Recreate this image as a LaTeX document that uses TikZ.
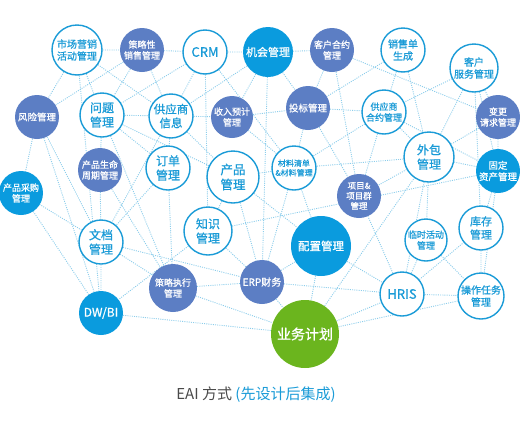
\documentclass[tikz,border=0pt]{standalone}
\usepackage{fontspec}
\setmainfont{Noto Sans CJK SC}[FakeBold=0.8]
\newfontfamily\capfont{Noto Sans CJK SC}
\pgfdeclarelayer{background}
\pgfsetlayers{background,main}
\definecolor{ringblue}{HTML}{1A9BD7}
\definecolor{fillblue}{HTML}{0A9BDE}
\definecolor{violetnode}{HTML}{5C7EC4}
\definecolor{leafgreen}{HTML}{6BB51E}
\definecolor{linkblue}{HTML}{8CCDEB}
\definecolor{captext}{HTML}{4A4A4A}
\tikzset{
    hollow/.style={circle, draw=ringblue, line width=1.4pt, fill=white, text=ringblue, align=center, inner sep=0pt},
    bluefill/.style={circle, fill=fillblue, text=white, align=center, inner sep=0pt},
    violetfill/.style={circle, fill=violetnode, text=white, align=center, inner sep=0pt},
    greenfill/.style={circle, fill=leafgreen, text=white, align=center, inner sep=0pt},
    link/.style={draw=linkblue, line width=0.9pt, dash pattern=on 1pt off 1.2pt},
}
\newcommand{\fs}[1]{\fontsize{#1}{\fpeval{#1*1.2}}\selectfont}
\begin{document}
\begin{tikzpicture}[x=1pt, y=-1pt]
    \useasboundingbox (0, 0) rectangle (520, 421);
    % top row
        \node[hollow, minimum size=50pt, font=\fs{10}] (mkt) at (77, 50){市场营销\\活动管理};
        \node[violetfill, minimum size=44pt, font=\fs{9}] (sstr) at (142, 50){策略性\\销售管理};
        \node[hollow, minimum size=44pt, font=\fs{13}] (crm) at (205, 52){CRM};
        \node[bluefill, minimum size=50pt, font=\fs{11}] (opp) at (268, 52){机会管理};
        \node[violetfill, minimum size=44pt, font=\fs{9}] (ccon) at (332, 50){客户合约\\管理};
        \node[hollow, minimum size=44pt, font=\fs{10}] (sord) at (403, 50){销售单\\生成};
        \node[hollow, minimum size=48pt, font=\fs{10}] (csvc) at (474, 68){客户\\服务管理};
    % second row
        \node[violetfill, minimum size=44pt, font=\fs{9.5}] (risk) at (37, 117){风险管理};
        \node[hollow, minimum size=44pt, font=\fs{12}] (iss) at (102, 115){问题\\管理};
        \node[hollow, minimum size=44pt, font=\fs{11.5}] (sup) at (171, 116){供应商\\信息};
        \node[violetfill, minimum size=42pt, font=\fs{9}] (rev) at (232, 117){收入预计\\管理};
        \node[violetfill, minimum size=44pt, font=\fs{9.5}] (bid) at (308, 108){投标管理};
        \node[hollow, minimum size=44pt, font=\fs{9}] (scon) at (384, 112){供应商\\合约管理};
        \node[violetfill, minimum size=44pt, font=\fs{9}] (chg) at (498, 117){变更\\请求管理};
    % third row
        \node[hollow, minimum size=50pt, font=\fs{12}] (out) at (429, 157){外包\\管理};
        \node[bluefill, minimum size=44pt, font=\fs{9.5}] (fix) at (498, 171){固定\\资产管理};
        \node[violetfill, minimum size=44pt, font=\fs{9}] (plc) at (100, 170){产品生命\\周期管理};
        \node[hollow, minimum size=44pt, font=\fs{12}] (ord) at (168, 168){订单\\管理};
        \node[hollow, minimum size=52pt, font=\fs{12.5}] (prd) at (233, 177){产品\\管理};
        \node[hollow, minimum size=44pt, font=\fs{8}] (bom) at (294, 168){材料清单\\\&材料管理};
        \node[violetfill, minimum size=44pt, font=\fs{8.5}] (prj) at (359, 196){项目\&\\项目群\\管理};
        \node[bluefill, minimum size=44pt, font=\fs{9}] (pur) at (21, 193){产品采购\\管理};
    % fourth row
        \node[hollow, minimum size=44pt, font=\fs{12}] (doc) at (101, 242){文档\\管理};
        \node[hollow, minimum size=48pt, font=\fs{12}] (kno) at (208, 231){知识\\管理};
        \node[bluefill, minimum size=60pt, font=\fs{11.5}] (cfg) at (321, 246){配置管理};
        \node[hollow, minimum size=42pt, font=\fs{9}] (tmp) at (426, 240){临时活动\\管理};
        \node[hollow, minimum size=44pt, font=\fs{11}] (inv) at (481, 228){库存\\管理};
    % bottom row
        \node[violetfill, minimum size=48pt, font=\fs{9}] (sexe) at (173, 288){策略执行\\管理};
        \node[violetfill, minimum size=44pt, font=\fs{10}] (erp) at (262, 282){ERP财务};
        \node[bluefill, minimum size=44pt, font=\fs{12}] (dw) at (101, 313){DW/BI};
        \node[hollow, minimum size=44pt, font=\fs{13}] (hris) at (402, 294){HRIS};
        \node[hollow, minimum size=46pt, font=\fs{10}] (ops) at (481, 296){操作任务\\管理};
        \node[greenfill, minimum size=68pt, font=\fs{14}] (plan) at (305, 334){业务计划};
    % caption
        \node[text=captext, font=\capfont\fs{15}] (cap) at (256, 395){EAI 方式 \textcolor{ringblue}{(先设计后集成)}};
    % links
    \begin{pgfonlayer}{background}
        \draw[link] (mkt) -- (sstr) (mkt) -- (risk) (mkt) -- (iss) (mkt) -- (sup) (mkt) -- (dw);
        \draw[link] (sstr) -- (crm) (sstr) -- (risk) (sstr) -- (iss) (sstr) -- (sup);
        \draw[link] (crm) -- (opp) (crm) -- (iss) (crm) -- (sup) (crm) -- (kno) (crm) -- (bom);
        \draw[link] (opp) -- (ccon) (opp) -- (rev) (opp) -- (bid) (opp) -- (erp) (opp) -- (sup);
        \draw[link] (ccon) -- (chg) (ccon) -- (prj) (ccon) -- (bid);
        \draw[link] (sord) -- (bid) (sord) -- (scon) (sord) -- (out);
        \draw[link] (csvc) -- (scon) (csvc) -- (out) (csvc) -- (fix) (csvc) -- (inv) (csvc) -- (chg);
        \draw[link] (risk) -- (pur) (risk) -- (dw) (risk) -- (doc);
        \draw[link] (iss) -- (sup) (iss) -- (plc) (iss) -- (ord) (iss) -- (prd) (iss) -- (sexe);
        \draw[link] (sup) -- (rev) (sup) -- (ord) (sup) -- (doc) (sup) -- (prd);
        \draw[link] (rev) -- (bid) (rev) -- (bom);
        \draw[link] (bid) -- (scon) (bid) -- (prj) (bid) -- (bom);
        \draw[link] (scon) -- (out) (scon) -- (fix) (scon) -- (bom) (scon) -- (prj);
        \draw[link] (chg) -- (fix) (chg) -- (out);
        \draw[link] (out) -- (fix) (out) -- (tmp) (out) -- (hris) (out) -- (prj) (out) -- (bom);
        \draw[link] (fix) -- (inv) (fix) -- (ops);
        \draw[link] (plc) -- (doc) (plc) -- (sexe);
        \draw[link] (ord) -- (doc) (ord) -- (sexe);
        \draw[link] (prd) -- (kno) (prd) -- (erp) (prd) -- (cfg) (prd) -- (bom);
        \draw[link] (bom) -- (erp) (bom) -- (cfg);
        \draw[link] (kno) -- (erp) (kno) -- (dw) (kno) -- (fix);
        \draw[link] (doc) -- (sexe) (doc) -- (erp) (doc) -- (dw) (doc) -- (pur);
        \draw[link] (pur) -- (dw);
        \draw[link] (sexe) -- (erp) (sexe) -- (plan);
        \draw[link] (dw) -- (plan);
        \draw[link] (erp) -- (plan) (erp) -- (cfg) (erp) -- (hris);
        \draw[link] (cfg) -- (hris) (cfg) -- (plan);
        \draw[link] (plan) -- (hris) (plan) -- (ops) (plan) -- (out);
        \draw[link] (hris) -- (ops) (hris) -- (tmp) (hris) -- (prj) (hris) -- (inv);
        \draw[link] (tmp) -- (ops) (inv) -- (ops);
    \end{pgfonlayer}
\end{tikzpicture}
\end{document}
